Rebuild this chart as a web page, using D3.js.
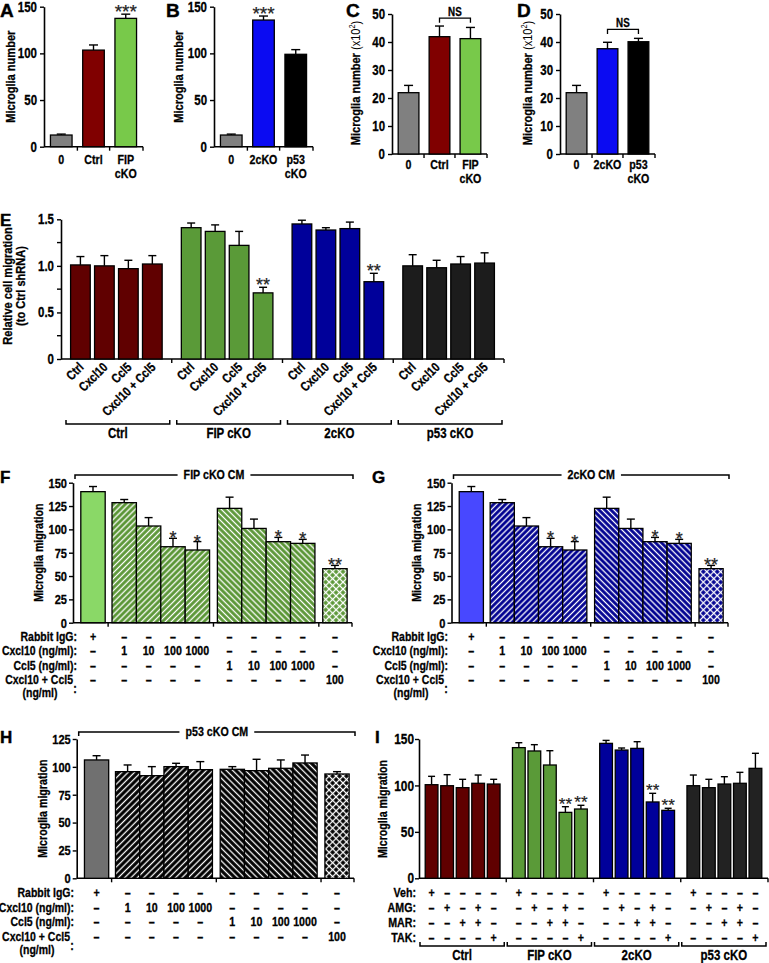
<!DOCTYPE html>
<html><head><meta charset="utf-8">
<script src="https://cdn.jsdelivr.net/npm/d3@7"></script>
<style>
body{margin:0;background:#fff}
svg{display:block}
text{font-family:"Liberation Sans",Arial,Helvetica,sans-serif;font-weight:bold;fill:#000;stroke:#000;stroke-width:0.3px}
text.star{font-weight:normal;fill:#222;stroke:#222;stroke-width:0.2px}
text.letter{stroke-width:0.4px}
</style></head><body>
<svg id="fig" width="769" height="963"></svg>
<script>
// ================= DATA =================
const catsAC = ["0", "Ctrl", "FIP cKO"];
const catsBD = ["0", "2cKO", "p53 cKO"];
const aVals = [12.5, 103.5, 137.5], aErr = [1.0, 5.5, 4.5], aSig = ["", "", "***"];
const bVals = [12.5, 135.7, 99.0],  bErr = [1.0, 4.3, 5.0], bSig = ["", "***", ""];
const cVals = [21.9, 41.9, 41.2],   cErr = [2.6, 3.8, 4.0];
const dVals = [21.9, 37.6, 40.1],   dErr = [2.6, 2.3, 1.2];
const ticksAB = [0, 50, 100, 150];
const ticksCD = [0, 10, 20, 30, 40, 50];

const eGroups = ["Ctrl", "FIP cKO", "2cKO", "p53 cKO"];
const eConds = ["Ctrl", "Cxcl10", "Ccl5", "Cxcl10 + Ccl5"];
const eCtrl = [1.01, 1.00, 0.97, 1.02], eCtrlErr = [0.09, 0.11, 0.09, 0.09];
const eFIP  = [1.41, 1.37, 1.22, 0.71], eFIPErr  = [0.05, 0.07, 0.15, 0.06];
const e2cKO = [1.45, 1.385, 1.40, 0.83], e2cKOErr = [0.04, 0.025, 0.07, 0.09];
const eP53  = [1.00, 0.98, 1.02, 1.03], eP53Err  = [0.12, 0.08, 0.08, 0.11];
const eSig = [["", "", "", ""], ["", "", "", "**"], ["", "", "", "**"], ["", "", "", ""]];
const eTicks = [0, 0.5, 1.0, 1.5];
const eMinor = [0.25, 0.75, 1.25];

const fVals = [140.4, 128.6, 103.6, 81.4, 77.9, 122.5, 101.0, 86.8, 85.0, 57.9];
const fErr  = [5.5, 3.4, 9.0, 9.0, 9.0, 12.0, 10.0, 4.6, 4.3, 3.5];
const gVals = [140.4, 128.6, 103.6, 81.4, 77.9, 122.5, 101.0, 86.8, 85.0, 57.9];
const gErr  = [5.5, 3.4, 9.0, 9.0, 9.0, 12.0, 10.0, 4.6, 4.3, 3.5];
const fgSig = ["", "", "", "*", "*", "", "", "*", "*", "**"];
const hVals = [106.2, 95.7, 92.1, 100.2, 97.5, 97.8, 96.6, 98.7, 103.5, 93.6];
const hErr  = [3.8, 6.0, 8.1, 3.0, 7.2, 2.4, 10.2, 7.5, 7.1, 2.1];
const hSig  = ["", "", "", "", "", "", "", "", "", ""];
const fghKind = ["solid", "fwd", "fwd", "fwd", "fwd", "back", "back", "back", "back", "cross"];
const fghGroupSizes = [1, 4, 4, 1];
const ticksFG = [0, 25, 50, 75, 100, 125, 150];
const ticksH = [0, 25, 50, 75, 100, 125];
const fghRowLabels = ["Rabbit IgG:", "Cxcl10 (ng/ml):", "Ccl5 (ng/ml):", "Cxcl10 + Ccl5"];
const rowIgG   = ["+", "–", "–", "–", "–", "–", "–", "–", "–", "–"];
const rowCxcl  = ["–", "1", "10", "100", "1000", "–", "–", "–", "–", "–"];
const rowCcl   = ["–", "–", "–", "–", "–", "1", "10", "100", "1000", "–"];
const rowCombo = ["–", "–", "–", "–", "–", "–", "–", "–", "–", "100"];

const iGroups = ["Ctrl", "FIP cKO", "2cKO", "p53 cKO"];
const iCtrl = [100.8, 99.7, 97.6, 102.3, 101.5], iCtrlErr = [9.0, 11.9, 9.0, 8.9, 5.1];
const iFIP  = [140.7, 137.1, 122.0, 71.0, 74.6], iFIPErr  = [5.3, 6.8, 15.4, 6.1, 4.0];
const i2cKO = [145.3, 138.1, 139.9, 82.2, 73.2], i2cKOErr = [3.2, 2.2, 7.2, 9.3, 2.2];
const iP53  = [99.7, 97.6, 101.5, 102.3, 118.4], iP53Err  = [11.5, 9.0, 7.9, 11.8, 16.2];
const iSig = [["", "", "", "", ""], ["", "", "", "**", "**"], ["", "", "", "**", "**"], ["", "", "", "", ""]];
const iRowLabels = ["Veh:", "AMG:", "MAR:", "TAK:"];
const iRows = [["+", "–", "–", "–", "–"], ["–", "+", "–", "+", "–"], ["–", "–", "+", "+", "–"], ["–", "–", "–", "–", "+"]];
const ticksI = [0, 50, 100, 150];

// ================= STYLE =================
const NARROW = 0.82;
const COL = {
  gray: "#808080", red: "#800000", lgreen: "#78c94a", blue: "#0b0bf2", black: "#000",
  eRed: "#600000", eGreen: "#5a9a38", eBlue: "#00009a", eBlack: "#1c1c1c",
  fGreen: "#8ad867", fHatch: "#5a9636", gBlue: "#4848ff", gHatch: "#000090",
  hGray: "#707070", hHatch: "#000"
};

const svg = d3.select("#fig");
const defs = svg.append("defs");
function stripe(id, base, angle, s, lw) {
  const p = defs.append("pattern").attr("id", id).attr("patternUnits", "userSpaceOnUse")
    .attr("width", s).attr("height", s).attr("patternTransform", `rotate(${angle})`);
  p.append("rect").attr("width", s).attr("height", s).attr("fill", base);
  p.append("line").attr("x1", s / 2).attr("x2", s / 2).attr("y1", -1).attr("y2", s + 1)
    .attr("stroke", "#fff").attr("stroke-width", lw);
}
function cross(id, base, s, lw) {
  const p = defs.append("pattern").attr("id", id).attr("patternUnits", "userSpaceOnUse")
    .attr("width", s).attr("height", s).attr("patternTransform", "rotate(45)");
  p.append("rect").attr("width", s).attr("height", s).attr("fill", base);
  p.append("line").attr("x1", s / 2).attr("x2", s / 2).attr("y1", -1).attr("y2", s + 1).attr("stroke", "#fff").attr("stroke-width", lw);
  p.append("line").attr("y1", s / 2).attr("y2", s / 2).attr("x1", -1).attr("x2", s + 1).attr("stroke", "#fff").attr("stroke-width", lw);
}
stripe("fFwd", COL.fHatch, 45, 4.2, 1.3); stripe("fBack", COL.fHatch, -45, 4.2, 1.3); cross("fCross", COL.fHatch, 4.9, 1.3);
stripe("gFwd", COL.gHatch, 45, 4.2, 1.3); stripe("gBack", COL.gHatch, -45, 4.2, 1.3); cross("gCross", COL.gHatch, 4.9, 1.3);
stripe("hFwd", COL.hHatch, 45, 4.5, 1.3); stripe("hBack", COL.hHatch, -45, 4.5, 1.3); cross("hCross", COL.hHatch, 4.9, 1.3);

// ================= HELPERS =================
function styleAxis(a, fs) {
  a.attr("font-family", null).attr("font-size", null);
  a.select(".domain").attr("stroke", "#000").attr("stroke-width", 1.6);
  a.selectAll(".tick line").attr("stroke", "#000").attr("stroke-width", 1.4);
  a.selectAll("text").style("font-size", fs + "px");
}
function yAxis(y, x0, ticks, fmt, fs, pad) {
  const ax = d3.axisLeft(y).tickValues(ticks).tickSize(4).tickSizeOuter(0).tickPadding(pad == null ? 2 : pad).tickFormat(fmt || d3.format("d"));
  const a = svg.append("g").attr("transform", `translate(${x0},0)`).call(ax);
  styleAxis(a, fs);
  return a;
}
function xBaseline(x0, x1, y0, tickXs) {
  const g = svg.append("g");
  g.append("line").attr("x1", x0).attr("x2", x1).attr("y1", y0).attr("y2", y0).attr("stroke", "#000").attr("stroke-width", 1.6);
  g.selectAll("line.t").data(tickXs).join("line").attr("class", "t")
    .attr("x1", d => d).attr("x2", d => d).attr("y1", y0).attr("y2", y0 + 4).attr("stroke", "#000").attr("stroke-width", 1.4);
}
function drawBars(items, y, capW) {
  const g = svg.append("g");
  g.selectAll("line.eb").data(items).join("line").attr("class", "eb")
    .attr("x1", d => d.x + d.w / 2).attr("x2", d => d.x + d.w / 2)
    .attr("y1", d => y(d.v)).attr("y2", d => y(d.v + d.e)).attr("stroke", "#000").attr("stroke-width", 1.4);
  g.selectAll("line.cap").data(items).join("line").attr("class", "cap")
    .attr("x1", d => d.x + d.w / 2 - capW / 2).attr("x2", d => d.x + d.w / 2 + capW / 2)
    .attr("y1", d => y(d.v + d.e)).attr("y2", d => y(d.v + d.e)).attr("stroke", "#000").attr("stroke-width", 1.4);
  g.selectAll("rect").data(items).join("rect")
    .attr("x", d => d.x).attr("y", d => y(d.v)).attr("width", d => d.w).attr("height", d => y(0) - y(d.v))
    .attr("fill", d => d.fill).attr("stroke", "#000").attr("stroke-width", 1.3);
  g.selectAll("text.star").data(items.filter(d => d.sig)).join("text").attr("class", "star")
    .attr("x", d => d.x + d.w / 2).attr("y", d => y(d.v + d.e) + (d.sgap == null ? 4 : d.sgap))
    .attr("text-anchor", "middle").style("font-size", d => (d.sfs || 18) + "px").text(d => d.sig);
}
function letter(t, x, y, fs) {
  svg.append("text").attr("class", "letter").attr("x", x).attr("y", y).style("font-size", fs + "px").text(t);
}
function yLabel(lines, x, y, fs, lh) {
  const t = svg.append("text").attr("transform", `translate(${x},${y}) rotate(-90)`).attr("text-anchor", "middle").style("font-size", fs + "px");
  lines.forEach((l, i) => {
    const ts = t.append("tspan").attr("x", 0).attr("dy", i === 0 ? -(lines.length - 1) * lh / 2 + fs * 0.35 : lh);
    if (Array.isArray(l)) l.forEach(p => {
      const s = ts.append("tspan").text(p.t);
      if (p.sup) s.attr("baseline-shift", "super").style("font-size", (fs * 0.65) + "px");
      if (p.normal) s.style("font-weight", "normal").style("stroke-width", "0px");
    });
    else ts.text(l);
  });
}

// ================= TOP PANELS A-D =================
function topPanel(o) {
  const y = d3.scaleLinear().domain([0, o.max]).range([o.y0, o.y1]);
  const x = d3.scaleBand().domain(o.cats).range([o.x0, o.x1]).paddingInner(0.33).paddingOuter(0.2);
  const items = o.cats.map((c, i) => ({ x: x(c), w: x.bandwidth(), v: o.vals[i], e: o.err[i], fill: o.colors[i], sig: o.sig ? o.sig[i] : "", sgap: 4, sfs: 19 }));
  const half = (x.step() - x.bandwidth()) / 2;
  xBaseline(o.x0, o.x1, o.y0, o.cats.slice(1).map(c => x(c) - half).concat([o.x1]));
  drawBars(items, y, 9);
  yAxis(y, o.x0, o.ticks, d3.format("d"), 14, 3);
  o.cats.forEach(c => {
    const cx = x(c) + x.bandwidth() / 2;
    c.split(" ").forEach((p, i) => svg.append("text").attr("x", cx).attr("y", o.y0 + o.lab + i * 14.5)
      .attr("text-anchor", "middle").style("font-size", "13px").text(p));
  });
  if (o.ns) {
    const xa = x(o.cats[1]) + x.bandwidth() / 2, xb = x(o.cats[2]) + x.bandwidth() / 2;
    const ly = y(o.ns);
    svg.append("path").attr("d", `M${xa},${ly + 4.5}V${ly}H${xb}V${ly + 4.5}`).attr("fill", "none").attr("stroke", "#000").attr("stroke-width", 1.3);
    svg.append("text").attr("x", (xa + xb) / 2).attr("y", ly - 2.5).attr("text-anchor", "middle").style("font-size", "12px").text("NS");
  }
}
topPanel({ cats: catsAC, vals: aVals, err: aErr, sig: aSig, colors: [COL.gray, COL.red, COL.lgreen], max: 150, ticks: ticksAB, x0: 44, x1: 143, y0: 146.7, y1: 6.7, lab: 17 });
topPanel({ cats: catsBD, vals: bVals, err: bErr, sig: bSig, colors: [COL.gray, COL.blue, COL.black], max: 150, ticks: ticksAB, x0: 214, x1: 313, y0: 146.7, y1: 6.7, lab: 17 });
topPanel({ cats: catsAC, vals: cVals, err: cErr, colors: [COL.gray, COL.red, COL.lgreen], max: 50, ticks: ticksCD, x0: 392, x1: 487, y0: 154, y1: 14, ns: 48.5, lab: 15 });
topPanel({ cats: catsBD, vals: dVals, err: dErr, colors: [COL.gray, COL.blue, COL.black], max: 50, ticks: ticksCD, x0: 560, x1: 655, y0: 154, y1: 14, ns: 44.5, lab: 15 });
letter("A", 0, 17, 19); letter("B", 166, 17, 19); letter("C", 346, 17, 19); letter("D", 517, 17, 19);
yLabel(["Microglia number"], 10, 76.7, 13.5, 14);
yLabel(["Microglia number"], 178, 76.7, 13.5, 14);
const supLabel = [[{ t: "Microglia number " }, { t: "(x10", normal: true }, { t: "2", sup: true, normal: true }, { t: ")", normal: true }]];
yLabel(supLabel, 355, 83, 13.5, 14);
yLabel(supLabel, 527, 83, 13.5, 14);

// ================= PANEL E =================
(function () {
  const y = d3.scaleLinear().domain([0, 1.5]).range([359, 219.3]);
  const gx = d3.scaleBand().domain(eGroups).range([61, 504]).padding(0);
  const ix = d3.scaleBand().domain(eConds).range([0, gx.bandwidth()]).paddingInner(0.18).paddingOuter(0.4);
  const vals = [eCtrl, eFIP, e2cKO, eP53], errs = [eCtrlErr, eFIPErr, e2cKOErr, eP53Err];
  const cols = [COL.eRed, COL.eGreen, COL.eBlue, COL.eBlack];
  const items = [];
  eGroups.forEach((g, gi) => eConds.forEach((c, ci) => items.push({ x: gx(g) + ix(c), w: ix.bandwidth(), v: vals[gi][ci], e: errs[gi][ci], fill: cols[gi], sig: eSig[gi][ci], sgap: 4, sfs: 18, cond: c })));
  xBaseline(61, 504, 359, eGroups.map(g => gx(g) + gx.bandwidth()));
  drawBars(items, y, 8);
  const ax = d3.axisLeft(y).tickValues(eTicks).tickSize(4).tickSizeOuter(0).tickPadding(3).tickFormat(d => d === 0 ? "0" : d3.format(".1f")(d));
  const a = svg.append("g").attr("transform", "translate(61,0)").call(ax); styleAxis(a, 14);
  svg.append("g").selectAll("line").data(eMinor).join("line").attr("x1", 57).attr("x2", 61).attr("y1", d => y(d)).attr("y2", d => y(d)).attr("stroke", "#000").attr("stroke-width", 1.4);
  svg.append("g").selectAll("text").data(items).join("text")
    .attr("transform", d => `translate(${d.x + d.w / 2 + 4},${368}) rotate(-45)`)
    .attr("text-anchor", "end").style("font-size", "13px").text(d => d.cond);
  eGroups.forEach(g => {
    const a0 = gx(g) + 5, a1 = gx(g) + gx.bandwidth() - 2;
    svg.append("path").attr("d", `M${a0},420V424H${a1}V420`).attr("fill", "none").attr("stroke", "#000").attr("stroke-width", 1.5);
    svg.append("text").attr("x", (a0 + a1) / 2).attr("y", 438.5).attr("text-anchor", "middle").style("font-size", "14px").text(g);
  });
  letter("E", 0, 226, 17);
  yLabel(["Relative cell migration", "(to Ctrl shRNA)"], 14, 286, 13.5, 12.5);
})();

// ================= PANELS F, G, H =================
function fghLayout(x0, x1) {
  const pads = [[0.32, 0.12], [0.16, 0.16], [0.16, 0.16], [0.16, 0.2]];
  let u = 0; const starts = [], bounds = [];
  fghGroupSizes.forEach((n, gi) => { u += pads[gi][0]; for (let j = 0; j < n; j++) starts.push(u + j); u += n + pads[gi][1]; bounds.push(u); });
  const sc = d3.scaleLinear().domain([0, u]).range([x0, x1]);
  return { sc, starts, bounds, w: sc(1) - sc(0) };
}
function cmPanel(o) {
  const y = d3.scaleLinear().domain([0, o.max]).range([o.y0, o.y1]);
  const L = fghLayout(o.x0, o.x1);
  const items = o.vals.map((v, i) => ({
    x: L.sc(L.starts[i]), w: L.w, v, e: o.err[i], sig: o.sig[i], sgap: 6, sfs: 18,
    fill: fghKind[i] === "solid" ? o.solid : `url(#${o.pfx}${fghKind[i] === "fwd" ? "Fwd" : fghKind[i] === "back" ? "Back" : "Cross"})`
  }));
  xBaseline(o.x0, o.x1, o.y0, L.bounds.map(b => L.sc(b)));
  drawBars(items, y, 8);
  yAxis(y, o.x0, o.ticks, d3.format("d"), 13.5, 2);
  const bx0 = o.x0 + 2, bx1 = o.x1 + 1, by = o.by, tx = (bx0 + bx1) / 2;
  const tt = svg.append("text").attr("x", tx).attr("y", by + 4.5).attr("text-anchor", "middle").style("font-size", "13px").text(o.title);
  const tw = tt.node().getComputedTextLength() * NARROW / 2 + 6;
  svg.append("path").attr("d", `M${bx0},${by + 4}V${by}H${tx - tw}M${tx + tw},${by}H${bx1}V${by + 4}`).attr("fill", "none").attr("stroke", "#000").attr("stroke-width", 1.5);
  const rows = [rowIgG, rowCxcl, rowCcl, rowCombo];
  fghRowLabels.forEach((lab, r) => {
    svg.append("text").attr("x", r === 3 ? o.labX - 4 : o.labX).attr("y", o.ty0 + r * o.rh).attr("text-anchor", "end").style("font-size", "12.8px").text(lab);
    svg.append("g").selectAll("text").data(rows[r]).join("text")
      .attr("x", (d, i) => items[i].x + items[i].w / 2).attr("y", o.ty0 + r * o.rh).attr("text-anchor", "middle")
      .style("font-size", "13px").text(d => d);
  });
  svg.append("text").attr("x", o.labX - 37).attr("y", o.ty0 + 3 * o.rh + 13).attr("text-anchor", "middle").style("font-size", "12.8px").text("(ng/ml)");
  svg.append("text").attr("x", o.labX - 2).attr("y", o.ty0 + 3 * o.rh + 9).attr("text-anchor", "middle").style("font-size", "13px").text(":");
  yLabel(["Microglia migration"], o.ylx, (o.y0 + o.y1) / 2, 13, 14);
}
cmPanel({ vals: fVals, err: fErr, sig: fgSig, solid: COL.fGreen, pfx: "f", max: 150, ticks: ticksFG, x0: 73, x1: 352, y0: 622.7, y1: 482.7, by: 475, title: "FIP cKO CM", labX: 77, ty0: 641, rh: 14.5, ylx: 38 });
cmPanel({ vals: gVals, err: gErr, sig: fgSig, solid: COL.gBlue, pfx: "g", max: 150, ticks: ticksFG, x0: 451.5, x1: 728, y0: 622.7, y1: 482.7, by: 475, title: "2cKO CM", labX: 448, ty0: 641, rh: 14.5, ylx: 416 });
cmPanel({ vals: hVals, err: hErr, sig: hSig, solid: COL.hGray, pfx: "h", max: 125, ticks: ticksH, x0: 76.7, x1: 354, y0: 878.3, y1: 739, by: 732, title: "p53 cKO CM", labX: 74, ty0: 897.5, rh: 14.5, ylx: 42 });
letter("F", 0, 483, 17); letter("G", 372, 483, 17); letter("H", 0, 743, 17);

// ================= PANEL I =================
(function () {
  const y = d3.scaleLinear().domain([0, 150]).range([878.3, 739]);
  const gx = d3.scaleBand().domain(iGroups).range([419, 768]).padding(0);
  const idx = d3.range(5);
  const ix = d3.scaleBand().domain(idx).range([0, gx.bandwidth()]).paddingInner(0.18).paddingOuter(0.4);
  const vals = [iCtrl, iFIP, i2cKO, iP53], errs = [iCtrlErr, iFIPErr, i2cKOErr, iP53Err];
  const cols = [COL.eRed, COL.eGreen, COL.eBlue, "#222"];
  const items = [];
  iGroups.forEach((g, gi) => idx.forEach(k => items.push({ x: gx(g) + ix(k), w: ix.bandwidth(), v: vals[gi][k], e: errs[gi][k], fill: cols[gi], sig: iSig[gi][k], sgap: 3, sfs: 17, k })));
  xBaseline(419, 768, 878.3, iGroups.map(g => gx(g) + gx.bandwidth()));
  drawBars(items, y, 7);
  yAxis(y, 419, ticksI, d3.format("d"), 14.5, 1);
  iRowLabels.forEach((lab, r) => {
    svg.append("text").attr("x", 416).attr("y", 897 + r * 15).attr("text-anchor", "end").style("font-size", "13px").text(lab);
    svg.append("g").selectAll("text").data(items).join("text")
      .attr("x", d => d.x + d.w / 2).attr("y", 897 + r * 15).attr("text-anchor", "middle").style("font-size", "13px").text(d => iRows[r][d.k]);
  });
  iGroups.forEach(g => {
    const a0 = gx(g) + 1, a1 = gx(g) + gx.bandwidth() - 2;
    svg.append("path").attr("d", `M${a0},942V946H${a1}V942`).attr("fill", "none").attr("stroke", "#000").attr("stroke-width", 1.5);
    svg.append("text").attr("x", (a0 + a1) / 2).attr("y", 960.5).attr("text-anchor", "middle").style("font-size", "14px").text(g);
  });
  letter("I", 375, 743, 17);
  yLabel(["Microglia migration"], 382, 809, 13, 14);
})();

// ===== emulate the condensed (narrow) typeface: compress text horizontally about its anchor =====
svg.selectAll("text").filter(function () { return !this.classList.contains("letter") && !this.classList.contains("star"); })
  .each(function () {
    const x = +(this.getAttribute("x") || 0);
    const tr = this.getAttribute("transform") || "";
    this.setAttribute("transform", `${tr} translate(${x},0) scale(${NARROW},1) translate(${-x},0)`);
  });
</script>
</body></html>
